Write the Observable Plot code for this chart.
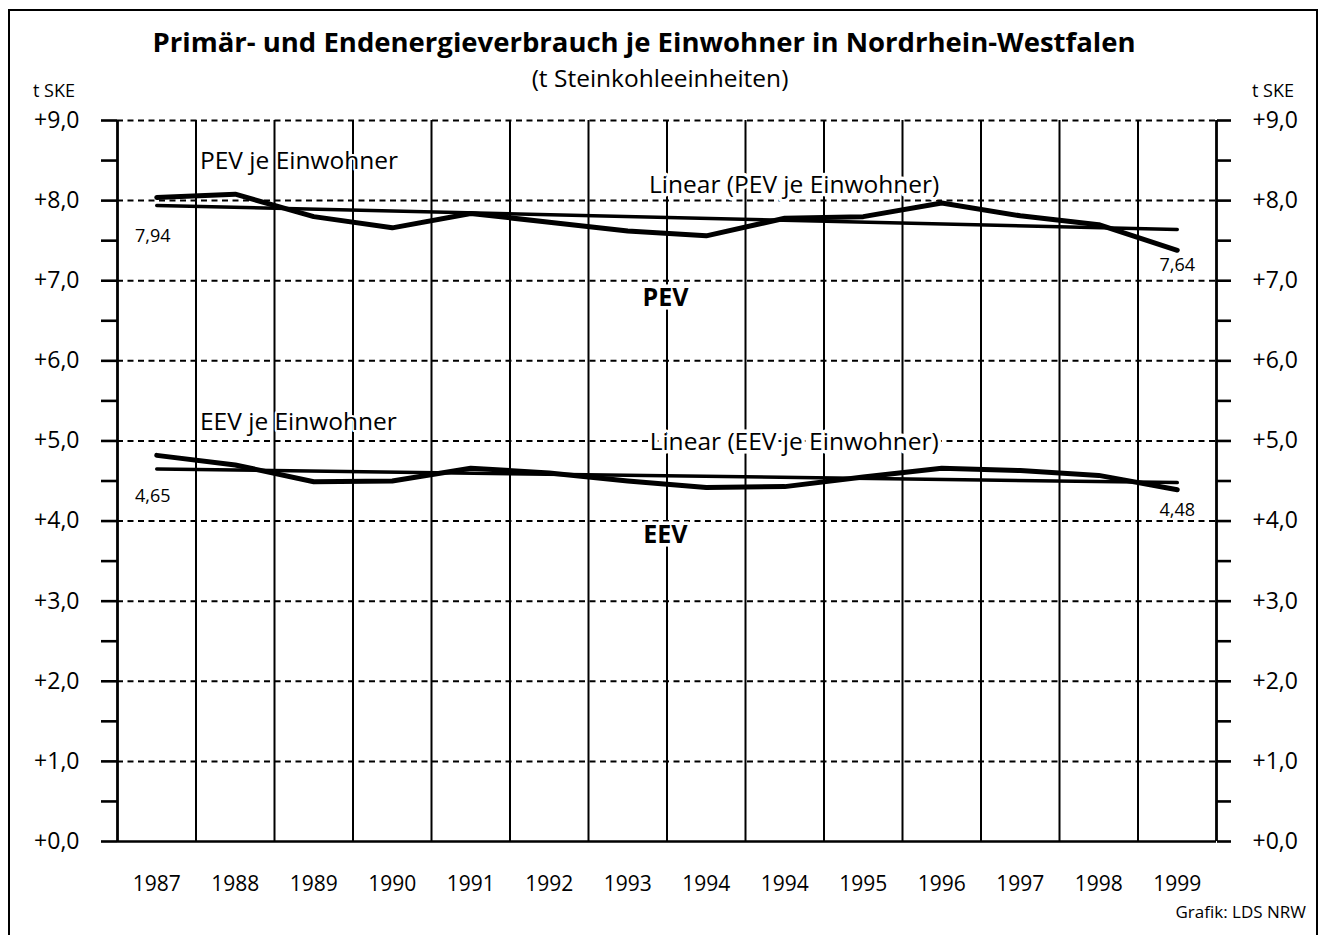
<!DOCTYPE html>
<html>
<head>
<meta charset="utf-8">
<script src="https://cdn.jsdelivr.net/npm/d3@7"></script>
<script src="https://cdn.jsdelivr.net/npm/@observablehq/plot@0.6"></script>
<style>
  body { margin: 0; background: #fff; font-family: "Open Sans", sans-serif; color: #000; }
  #wrap { position: relative; width: 1324px; height: 935px; overflow: hidden; background: #fff; }
  #frame { position: absolute; left: 8px; top: 9px; width: 1310px; height: 940px; border: 2.5px solid #000; box-sizing: border-box; }
  #chart { position: absolute; left: 0; top: 0; }
  .t { position: absolute; white-space: nowrap; }
  #title { left: 0; width: 1288px; top: 24px; text-align: center; font-weight: 700; font-size: 27.5px; line-height: 36px; }
  #subtitle { left: 0; width: 1320px; top: 62px; text-align: center; font-size: 24.5px; line-height: 32px; }
  .unit { top: 78px; font-size: 18px; line-height: 24px; }
  #unitL { left: 33px; }
  #unitR { left: 1252px; }
  #caption { right: 18px; top: 900px; font-size: 17px; line-height: 24px; }
</style>
</head>
<body>
<div id="wrap">
  <div id="frame"></div>
  <div id="chart"></div>
  <div class="t" id="title">Primär- und Endenergieverbrauch je Einwohner in Nordrhein-Westfalen</div>
  <div class="t" id="subtitle">(t Steinkohleeinheiten)</div>
  <div class="t unit" id="unitL">t SKE</div>
  <div class="t unit" id="unitR">t SKE</div>
  <div class="t" id="caption">Grafik: LDS NRW</div>
</div>
<script>
// Category labels (as printed, including the repeated 1994)
const years = ["1987","1988","1989","1990","1991","1992","1993","1994","1994","1995","1996","1997","1998","1999"];
// Primärenergieverbrauch je Einwohner (t SKE)
const pev = [8.04, 8.08, 7.80, 7.66, 7.84, 7.73, 7.62, 7.56, 7.78, 7.80, 7.97, 7.81, 7.70, 7.38];
// Endenergieverbrauch je Einwohner (t SKE)
const eev = [4.82, 4.70, 4.49, 4.50, 4.66, 4.60, 4.50, 4.42, 4.43, 4.55, 4.66, 4.63, 4.57, 4.39];
// Linear trend endpoints (first / last category)
const pevTrend = [7.94, 7.64];
const eevTrend = [4.65, 4.48];
// Y ticks
const yMajor = [0, 1, 2, 3, 4, 5, 6, 7, 8, 9];
const yTicks = [0, 0.5, 1, 1.5, 2, 2.5, 3, 3.5, 4, 4.5, 5, 5.5, 6, 6.5, 7, 7.5, 8, 8.5, 9];
// Annotations: text, category position, value
const seriesNotes = [
  {text: "PEV je Einwohner", i: 0.5, v: 8.49},
  {text: "EEV je Einwohner", i: 0.5, v: 5.23}
];
const trendNotes = [
  {text: "Linear (PEV je Einwohner)", i: 8.12, v: 8.19},
  {text: "Linear (EEV je Einwohner)", i: 8.12, v: 4.98}
];
const groupNotes = [
  {text: "PEV", i: 6.48, v: 6.79},
  {text: "EEV", i: 6.48, v: 3.82}
];
const valueLabels = [
  {text: "7,94", i: -0.05, v: 7.56},
  {text: "7,64", i: 13.0, v: 7.19},
  {text: "4,65", i: -0.05, v: 4.31},
  {text: "4,48", i: 13.0, v: 4.14}
];

const idx = years.map((_, i) => i);
const pevData = idx.map(i => ({i, v: pev[i]}));
const eevData = idx.map(i => ({i, v: eev[i]}));
const last = years.length - 1;
const pevTrendData = [{i: 0, v: pevTrend[0]}, {i: last, v: pevTrend[1]}];
const eevTrendData = [{i: 0, v: eevTrend[0]}, {i: last, v: eevTrend[1]}];
const bounds = d3.range(-0.5, years.length, 1);
const fmt = d => Number.isInteger(d) ? "+" + d.toFixed(1).replace(".", ",") : "";

const font = "'Open Sans', sans-serif";
const halo = {fill: "#000", stroke: "white", paintOrder: "stroke"};
const chart = Plot.plot({
  width: 1324,
  height: 935,
  marginLeft: 117,
  marginRight: 108,
  marginTop: 120,
  marginBottom: 94,
  style: {fontFamily: font, background: "transparent", color: "#000"},
  x: {domain: [-0.5, last + 0.5], axis: null},
  y: {domain: [0, 9], axis: null},
  marks: [
    Plot.ruleY(yMajor.filter(d => d > 0), {stroke: "#000", strokeWidth: 2, strokeDasharray: "6,4.5"}),
    Plot.ruleX(bounds, {y1: 0, y2: 9, stroke: "#000", strokeWidth: 2}),
    Plot.ruleX([bounds[0], bounds[bounds.length - 1]], {y1: 0, y2: 9, stroke: "#000", strokeWidth: 2.6}),
    Plot.ruleY([0], {stroke: "#000", strokeWidth: 2.6}),
    Plot.axisY(yTicks, {anchor: "left", tickSize: 16, tickPadding: 22, tickFormat: fmt, fontSize: 23, strokeWidth: 2.6, label: null}),
    Plot.axisY(yTicks, {anchor: "right", tickSize: 14, tickPadding: 22, tickFormat: fmt, fontSize: 23, strokeWidth: 2.6, label: null}),
    Plot.axisX(idx, {anchor: "bottom", tickSize: 0, tickPadding: 35, tickFormat: i => years[i], fontSize: 21, label: null}),
    Plot.text(seriesNotes, {x: "i", y: "v", text: "text", textAnchor: "start", dx: 4, fontSize: 24.5, strokeWidth: 4, ...halo}),
    Plot.text(trendNotes, {x: "i", y: "v", text: "text", textAnchor: "middle", fontSize: 24.5, strokeWidth: 7, ...halo}),
    Plot.text(groupNotes, {x: "i", y: "v", text: "text", textAnchor: "middle", fontSize: 25, fontWeight: "bold", strokeWidth: 7, ...halo}),
    Plot.text(valueLabels, {x: "i", y: "v", text: "text", fontSize: 18, strokeWidth: 4, ...halo}),
    Plot.line(pevTrendData, {x: "i", y: "v", stroke: "#000", strokeWidth: 3.5}),
    Plot.line(eevTrendData, {x: "i", y: "v", stroke: "#000", strokeWidth: 3.5}),
    Plot.line(pevData, {x: "i", y: "v", stroke: "#000", strokeWidth: 5, strokeLinejoin: "round", strokeLinecap: "round"}),
    Plot.line(eevData, {x: "i", y: "v", stroke: "#000", strokeWidth: 5, strokeLinejoin: "round", strokeLinecap: "round"})
  ]
});
document.getElementById("chart").appendChild(chart);
</script>
</body>
</html>
